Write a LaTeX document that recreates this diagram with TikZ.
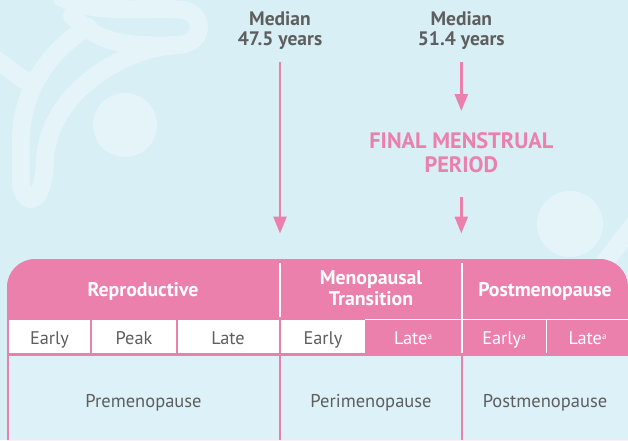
\documentclass[tikz,border=0pt]{standalone}
\usepackage{fontspec}
\setmainfont{PT Sans}
\usetikzlibrary{arrows.meta}
\definecolor{bg}{HTML}{D9EFF6}
\definecolor{deco}{HTML}{E4F4F9}
\definecolor{pinkc}{HTML}{EC80AC}
\definecolor{txt}{HTML}{5E5E5E}
\definecolor{low}{HTML}{DDF1F8}
\tikzset{
  decoline/.style={draw=deco, line width=18pt, line cap=round, line join=round},
  arr/.style={draw=pinkc, line width=2.6pt, -{Triangle[width=13pt,length=17pt]}},
  toplabel/.style={font=\fontsize{19.5}{19.8}\selectfont\bfseries, text=txt, align=center, anchor=base, inner sep=0pt},
  fmplabel/.style={font=\fontsize{22.3}{24.4}\selectfont\bfseries, text=pinkc, align=center, anchor=base, inner sep=0pt},
  headlabel/.style={font=\fontsize{19.8}{20.7}\selectfont\bfseries, text=white, align=center, anchor=base, inner sep=0pt},
  sublabel/.style={font=\fontsize{18.3}{20}\selectfont, text=txt, anchor=base, inner sep=0pt},
  subpink/.style={sublabel, text=white},
  bodylabel/.style={font=\fontsize{18.5}{20}\selectfont, text=txt, anchor=base, inner sep=0pt},
  whitediv/.style={draw=white, line width=1.4pt},
  pinkdiv/.style={draw=pinkc, line width=2.3pt}
}
\newcommand{\supa}{\raisebox{0.55ex}{\fontsize{9}{9}\selectfont a}}
\begin{document}
\begin{tikzpicture}[x=1pt,y=-1pt]
\useasboundingbox (0,0) rectangle (628,440);
\fill[bg] (0,0) rectangle (628,440);
% decoration
\begin{scope}
\clip (0,0) rectangle (628,440);
\draw[decoline] (62,-2) .. controls (100,16) and (150,6) .. (183,10) .. controls (205,13) and (205,44) .. (178,45) .. controls (150,46) and (120,46) .. (100,36) .. controls (88,30) .. (72,16);
\draw[decoline] (88,27) .. controls (50,50) and (21,90) .. (21,140) -- (21,185);
\draw[decoline] (178,45) .. controls (120,48) and (48,95) .. (45,160) .. controls (44,205) and (25,208) .. (21,185);
\draw[decoline] (24,80) -- (-6,58);
\draw[decoline] (597,272) -- (645,210);
\fill[deco] (125,125) circle (32pt);
\fill[deco] (570,224) circle (33pt);
\end{scope}
% table background
\fill[pinkc] (7,440) -- (7,300) [rounded corners=28pt] -- (7,259) -- (628,259) [sharp corners] -- (628,300) -- (628,440) -- cycle;
\fill[low] (9.3,355.5) rectangle (278.9,440);
\fill[low] (281.1,355.5) rectangle (460.9,440);
\fill[low] (463.1,355.5) rectangle (628,440);
% white sub cells
\fill[white] (9.3,320) rectangle (90.3,352.7);
\fill[white] (92.3,320) rectangle (175.8,352.7);
\fill[white] (177.8,320) rectangle (278.6,352.7);
\fill[white] (281.2,320) rectangle (364.5,352.7);
% white dividers in pink area
\draw[whitediv] (280,262.5) -- (280,316.7);
\draw[whitediv] (461.8,262.5) -- (461.8,353);
\draw[whitediv] (546.3,320) -- (546.3,353);
\draw[whitediv] (364.5,319.4) -- (628,319.4);
% header labels
\node[headlabel] (hrep) at (143,296) {Reproductive};
\node[headlabel] (hmt) at (371,305) {Menopausal\\Transition};
\node[headlabel] (hpost) at (545,296) {Postmenopause};
% sub labels
\node[sublabel] (s1) at (49.5,344.3) {Early};
\node[sublabel] (s2) at (134,344.3) {Peak};
\node[sublabel] (s3) at (228,344.3) {Late};
\node[sublabel] (s4) at (323,344.3) {Early};
\node[subpink] (s5) at (413,344.3) {Late\supa};
\node[subpink] (s6) at (504,344.3) {Early\supa};
\node[subpink] (s7) at (587.5,344.3) {Late\supa};
% body labels
\node[bodylabel] (b1) at (143.5,407.7) {Premenopause};
\node[bodylabel] (b2) at (371,407.7) {Perimenopause};
\node[bodylabel] (b3) at (545,407.7) {Postmenopause};
% top labels
\node[toplabel] (m1) at (280,45.7) {Median\\47.5 years};
\node[toplabel] (m2) at (461.3,45.7) {Median\\51.4 years};
\node[fmplabel] (fmp) at (461.3,172.7) {FINAL MENSTRUAL\\PERIOD};
% arrows
\coordinate (a1s) at (280,62.3);
\coordinate (a1e) at (280,233.5);
\coordinate (a2s) at (461.3,62.3);
\coordinate (a2e) at (461.3,111);
\coordinate (a3s) at (461.3,196.7);
\coordinate (a3e) at (461.3,233.5);
\draw[arr] (a1s) -- (a1e);
\draw[arr] (a2s) -- (a2e);
\draw[arr] (a3s) -- (a3e);
\end{tikzpicture}
\end{document}
